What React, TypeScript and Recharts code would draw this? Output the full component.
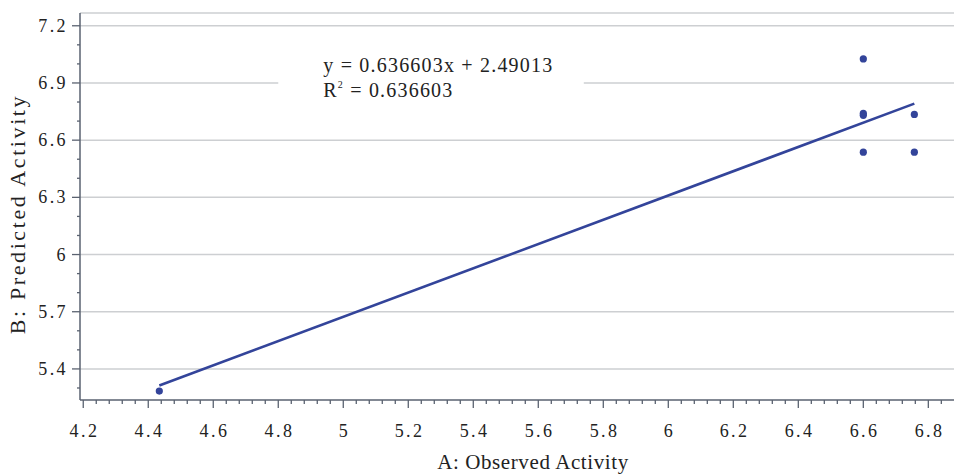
import React from 'react';
import { ScatterChart, Scatter, XAxis, YAxis, ReferenceLine, ReferenceArea, Label } from 'recharts';

// observed vs predicted activity
const observed = [4.434, 6.6, 6.6, 6.6, 6.6, 6.757, 6.757];
const predicted = [5.284, 7.026, 6.74, 6.73, 6.537, 6.735, 6.537];

const slope = 0.636603;
const intercept = 2.49013;
const rSquared = 0.636603;

const xMajorTicks = [4.2, 4.4, 4.6, 4.8, 5, 5.2, 5.4, 5.6, 5.8, 6, 6.2, 6.4, 6.6, 6.8];
const yMajorTicks = [5.4, 5.7, 6, 6.3, 6.6, 6.9, 7.2];

const xDomain: [number, number] = [4.19, 6.879];
const yDomain: [number, number] = [5.237, 7.267];

const FONT = '"Liberation Serif", "Times New Roman", serif';
const AXIS = '#5a6270';
const GRID = '#cdcfd2';
const BLUE = '#33449a';

// minor ticks: 5 steps between x majors, 3 steps between y majors
const xTicks: number[] = [];
xMajorTicks.forEach((t) => {
  for (let i = 0; i < 5; i++) {
    const v = +(t + i * 0.04).toFixed(3);
    if (v <= xDomain[1]) xTicks.push(v);
  }
});
const yTicks: number[] = [+(yMajorTicks[0] - 0.1).toFixed(2)];
yMajorTicks.forEach((t) => {
  for (let i = 0; i < 3; i++) {
    const v = +(t + i * 0.1).toFixed(2);
    if (v <= yDomain[1]) yTicks.push(v);
  }
});

const isMajor = (v: number, list: number[]) => list.some((m) => Math.abs(m - v) < 1e-6);

const points = observed.map((x, i) => ({ x, y: predicted[i] }));
const fitX = [Math.min(...observed), Math.max(...observed)];
const fitLine = fitX.map((x) => ({ x, y: slope * x + intercept }));

const XTick = (props: any) => {
  const { x, y, payload } = props;
  const major = isMajor(payload.value, xMajorTicks);
  return (
    <g>
      <line x1={x} x2={x} y1={y} y2={y + (major ? 8 : 4)} stroke={AXIS} strokeWidth={1.3} />
      {major && (
        <text x={x + 1.2} y={y + 37} textAnchor="middle" fontSize={18} letterSpacing={2.4} fill="#222" fontFamily={FONT}>
          {Number(payload.value.toFixed(1))}
        </text>
      )}
    </g>
  );
};

const YTick = (props: any) => {
  const { x, y, payload } = props;
  const major = isMajor(payload.value, yMajorTicks);
  return (
    <g>
      <line x1={x - (major ? 8 : 3)} x2={x} y1={y} y2={y} stroke={AXIS} strokeWidth={1.3} />
      {major && (
        <text x={x - 12} y={y + 6} textAnchor="end" fontSize={18} letterSpacing={2.4} fill="#222" fontFamily={FONT}>
          {Number(payload.value.toFixed(1))}
        </text>
      )}
    </g>
  );
};

const Dot = (props: any) => <circle cx={props.cx} cy={props.cy} r={3.6} fill={BLUE} />;

const Equation = (props: any) => {
  const { x, y } = props.viewBox;
  return (
    <text fontFamily={FONT} fontSize={20} letterSpacing={1.2} fill="#222">
      <tspan x={x + 45} y={y + 31}>{`y = ${slope}x + ${intercept}`}</tspan>
      <tspan x={x + 45} y={y + 56}>R</tspan>
      <tspan dy={-9} fontSize={10}>2</tspan>
      <tspan dy={9}>{` = ${rSquared}`}</tspan>
    </text>
  );
};

const App = () => {
  return (
    <div style={{ position: 'absolute', left: 0, top: 0, background: '#fff' }}>
      <ScatterChart width={954} height={475} margin={{ top: 13, right: 0, bottom: 15, left: 8 }}>
        {yMajorTicks
          .filter((v) => v !== 6.9)
          .map((v) => (
            <ReferenceLine key={v} y={v} stroke={GRID} strokeWidth={1.5} />
          ))}
        <ReferenceLine y={yDomain[1]} stroke={GRID} strokeWidth={1.5} />
        <ReferenceLine segment={[{ x: xDomain[0], y: 6.9 }, { x: 4.8, y: 6.9 }]} stroke={GRID} strokeWidth={1.5} />
        <ReferenceLine segment={[{ x: 5.74, y: 6.9 }, { x: xDomain[1], y: 6.9 }]} stroke={GRID} strokeWidth={1.5} />
        <ReferenceArea x1={4.8} x2={5.74} y1={6.75} y2={7.12} fillOpacity={0} strokeOpacity={0} label={Equation} />
        <XAxis
          type="number"
          dataKey="x"
          domain={xDomain}
          allowDataOverflow
          ticks={xTicks}
          interval={0}
          height={60}
          tickSize={0}
          tickMargin={0}
          tickLine={false}
          tick={XTick}
          axisLine={{ stroke: AXIS, strokeWidth: 1.5 }}
        >
          <Label
            content={() => (
              <text x={533} y={469} textAnchor="middle" fontSize={21} letterSpacing={0.6} fill="#222" fontFamily={FONT}>
                A: Observed Activity
              </text>
            )}
          />
        </XAxis>
        <YAxis
          type="number"
          dataKey="y"
          domain={yDomain}
          allowDataOverflow
          ticks={yTicks}
          interval={0}
          width={72}
          tickSize={0}
          tickMargin={0}
          tickLine={false}
          tick={YTick}
          axisLine={{ stroke: AXIS, strokeWidth: 1.5 }}
        >
          <Label
            content={() => (
              <text
                x={25}
                y={214}
                transform="rotate(-90 25 214)"
                textAnchor="middle"
                fontSize={22}
                letterSpacing={2.6}
                fill="#222"
                fontFamily={FONT}
              >
                B: Predicted Activity
              </text>
            )}
          />
        </YAxis>
        <Scatter
          data={fitLine}
          line={{ stroke: BLUE, strokeWidth: 2.6 }}
          shape={() => <g />}
          isAnimationActive={false}
        />
        <Scatter data={points} shape={Dot} isAnimationActive={false} />
      </ScatterChart>
    </div>
  );
};

export default App;
